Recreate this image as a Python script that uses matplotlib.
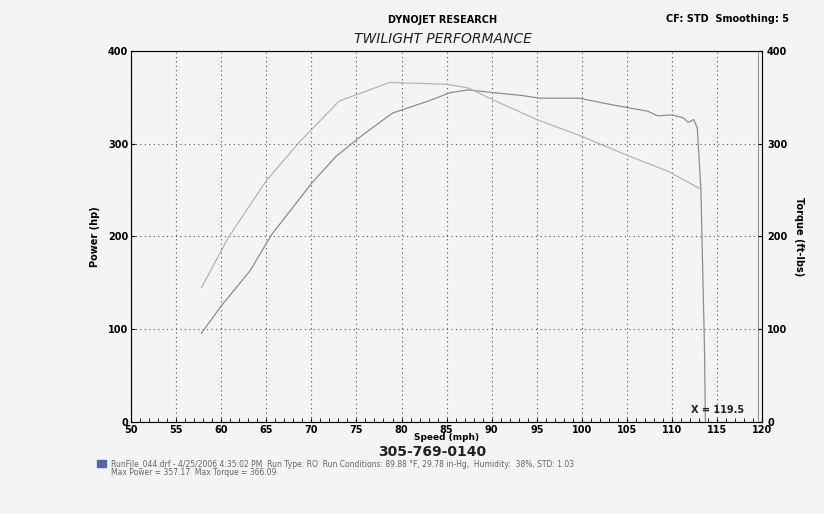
import matplotlib
matplotlib.use("Agg")
import matplotlib.pyplot as plt
from matplotlib.ticker import MultipleLocator

power_mph = [57.8, 60.0, 63.2, 65.6, 70.0, 72.7, 75.5, 79.0, 83.0, 85.4, 87.4, 90.2, 93.3, 95.3, 99.7,
             103.3, 107.3, 108.4, 110.0, 111.2, 111.8, 112.4, 112.8, 113.2, 113.6, 113.7]
power_hp = [95.6, 125, 163, 202, 257, 286, 308, 333, 346, 355, 358, 355, 352, 349, 349,
            342, 335, 330, 331, 328, 323, 326, 317, 251, 79, 0]
torque_mph = [57.8, 60.8, 65.0, 68.7, 73.1, 78.7, 85.0, 87.4, 90.2, 95.0, 99.7, 104.9, 109.6, 113.2]
torque_ftlb = [144.6, 199, 260, 302, 346, 366, 364, 360, 347, 326, 309, 288, 270, 251]
x_ticks = list(range(50, 121, 5))
y_ticks = [0, 100, 200, 300, 400]
cursor_x = 119.5

bg = "#f5f4f5"
fig = plt.figure(figsize=(8.24, 5.14), dpi=100, facecolor=bg)
ax = fig.add_axes([0.159, 0.179, 0.766, 0.722], facecolor=bg)
ax.plot(power_mph, power_hp, color="#8c8c94", lw=0.9)
ax.plot(torque_mph, torque_ftlb, color="#b4b4bc", lw=0.9)
ax.axvline(cursor_x, color="#999999", lw=0.8)
ax.text(cursor_x - 1.5, 8, "X = 119.5", ha="right", va="bottom", fontsize=7, fontweight="bold", color="#222222")

ax.set_xlim(50, 120)
ax.set_ylim(0, 400)
ax.set_xticks(x_ticks)
ax.set_yticks(y_ticks)
ax.xaxis.set_minor_locator(MultipleLocator(1))
ax.grid(True, which="major", color="#555555", linestyle=(0, (1, 3)), lw=0.8)
ax.tick_params(labelsize=7, width=0.8, length=3, direction="in", pad=2)
ax.tick_params(which="minor", length=3, direction="in")
for lab in ax.get_xticklabels() + ax.get_yticklabels():
    lab.set_fontweight("bold")
ax.set_xlabel("Speed (mph)", fontsize=6.5, fontweight="bold", labelpad=-1)
ax.set_ylabel("Power (hp)", fontsize=7, fontweight="bold", labelpad=6)
for s in ax.spines.values():
    s.set_color("#666666")

ax2 = ax.twinx()
ax2.set_ylim(0, 400)
ax2.set_yticks(y_ticks)
ax2.tick_params(labelsize=7, direction="in", length=3)
for lab in ax2.get_yticklabels():
    lab.set_fontweight("bold")
ax2.set_ylabel("Torque (ft-lbs)", fontsize=7, fontweight="bold", rotation=270, labelpad=12)

fig.text(0.537, 0.955, "DYNOJET RESEARCH", ha="center", fontsize=7, fontweight="bold")
fig.text(0.537, 0.917, "TWILIGHT PERFORMANCE", ha="center", fontsize=10, style="italic", color="#222222")
fig.text(0.958, 0.958, "CF: STD  Smoothing: 5", ha="right", fontsize=7, fontweight="bold")
fig.text(0.525, 0.120, "305-769-0140", ha="center", va="center", fontsize=10, fontweight="bold", color="#222222")
fig.text(0.135, 0.092, "RunFile_044.drf - 4/25/2006 4:35:02 PM  Run Type: RO  Run Conditions: 89.88 °F, 29.78 in-Hg,  Humidity:  38%, STD: 1.03",
         fontsize=5.5, color="#666666")
fig.text(0.135, 0.075, "Max Power = 357.17  Max Torque = 366.09", fontsize=5.5, color="#666666")
fig.patches.append(plt.Rectangle((0.118, 0.091), 0.011, 0.015, transform=fig.transFigure, color="#5566aa"))

fig.savefig("out.png", dpi=100, facecolor=bg)
